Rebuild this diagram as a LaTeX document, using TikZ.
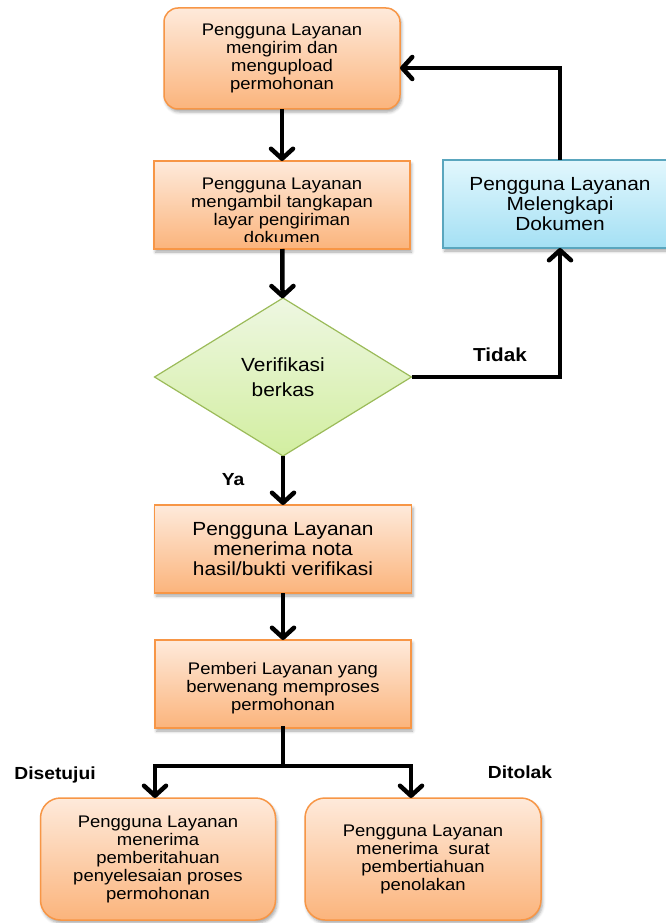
\documentclass[tikz,border=0pt]{standalone}
\usepackage{fontspec}
\setmainfont[FakeStretch=1.1]{Liberation Sans}
\usetikzlibrary{arrows.meta,shapes.geometric,shadows.blur}

\definecolor{orgLine}{HTML}{F79646}
\definecolor{orgTop}{HTML}{FEEADB}
\definecolor{orgBot}{HTML}{FBB47C}
\definecolor{bluLine}{HTML}{5AA6BE}
\definecolor{bluTop}{HTML}{E2F7FD}
\definecolor{bluBot}{HTML}{A4E0F4}
\definecolor{grnLine}{HTML}{9BBB59}
\definecolor{grnTop}{HTML}{EEF7E2}
\definecolor{grnBot}{HTML}{D2EEA0}

\tikzset{
  base/.style={inner sep=0pt,outer sep=0pt,align=center,line width=1.5pt},
  shade/.style={blur shadow={shadow xshift=1.5pt,shadow yshift=-3pt,shadow blur radius=3pt,shadow opacity=35}},
  orangebox/.style={base,shade,draw=orgLine,top color=orgTop,bottom color=orgBot},
  roundbox/.style={orangebox,rounded corners=14pt},
  bluebox/.style={base,shade,draw=bluLine,top color=bluTop,bottom color=bluBot},
  decision/.style={base,diamond,draw=grnLine,line width=1.2pt,top color=grnTop,bottom color=grnBot,aspect=1.63},
  txtS/.style={font=\fontsize{16.8}{18}\selectfont},
  txtL/.style={font=\fontsize{19}{20}\selectfont},
  lbl/.style={inner sep=0pt,font=\bfseries\fontsize{17.5}{20}\selectfont},
  flow/.style={line width=4.5pt,-{Straight Barb[length=10pt,width=22pt,round]}},
  link/.style={line width=4.5pt,line cap=rect}
}

\begin{document}
\begin{tikzpicture}[x=1pt,y=-1pt]
\useasboundingbox (0,0) rectangle (665,923);

% main column of steps
\node[roundbox,txtS,minimum width=236pt,minimum height=101pt] (kirim) at (282,58.5)
  {Pengguna Layanan\\mengirim dan\\mengupload\\permohonan};
\node[orangebox,minimum width=256pt,minimum height=88pt] (tangkap) at (282,205) {};
\begin{scope}
  % the last line runs past the text frame and is cut off
  \clip (153,160) rectangle (409,241.5);
  \node[inner sep=0pt,align=center,txtS,anchor=north] (tangkaptxt) at (282,178)
    {Pengguna Layanan\\mengambil tangkapan\\layar pengiriman\\dokumen};
\end{scope}
\node[decision,minimum width=257pt,minimum height=158pt,font=\fontsize{19}{25}\selectfont] (verif) at (283,377)
  {Verifikasi\\berkas};
\node[orangebox,txtL,minimum width=257pt,minimum height=88pt] (nota) at (283,549)
  {Pengguna Layanan\\menerima nota\\hasil/bukti verifikasi};
\node[orangebox,txtS,minimum width=256pt,minimum height=88pt] (proses) at (283,684)
  {\rule{0pt}{20pt}Pemberi Layanan yang\\berwenang memproses\\permohonan};

% correction branch
\node[bluebox,txtL,minimum width=234pt,minimum height=88pt] (lengkap) at (560,204)
  {Pengguna Layanan\\Melengkapi\\Dokumen};

% outcomes
\node[roundbox,rounded corners=20pt,txtS,minimum width=235pt,minimum height=122pt] (setuju) at (158,859)
  {Pengguna Layanan\\menerima\\pemberitahuan\\penyelesaian proses\\permohonan};
\node[roundbox,rounded corners=20pt,txtS,minimum width=236pt,minimum height=122pt] (tolak) at (423,859)
  {Pengguna Layanan\\menerima\ \ surat\\pembertiahuan\\penolakan};

% labels
\node[lbl,font=\bfseries\fontsize{18.8}{20}\selectfont] (lblTidak) at (500,355) {Tidak};
\node[lbl] (lblYa) at (233,480) {Ya};
\node[lbl] (lblSetuju) at (55,775) {Disetujui};
\node[lbl] (lblTolak) at (520,772) {Ditolak};

% connectors
\coordinate (balik) at (560,68);
\coordinate (cabKiri) at (155,766);
\coordinate (cabKanan) at (411,766);

\draw[flow] (kirim) -- (tangkap);
\draw[flow] (tangkap) -- (verif);
\draw[flow] (verif) -- (nota);
\draw[flow] (nota) -- (proses);
\draw[flow] (verif.east) -- (verif.east -| lengkap) -- (lengkap.south);
\draw[flow] (lengkap.north) -- (balik) -- (balik -| kirim.east);
\draw[link] (proses.south) -- (proses.south |- cabKiri);
\draw[link] (cabKiri) -- (cabKanan);
\draw[flow] (cabKiri) -- (cabKiri |- setuju.north);
\draw[flow] (cabKanan) -- (cabKanan |- tolak.north);
\end{tikzpicture}
\end{document}
